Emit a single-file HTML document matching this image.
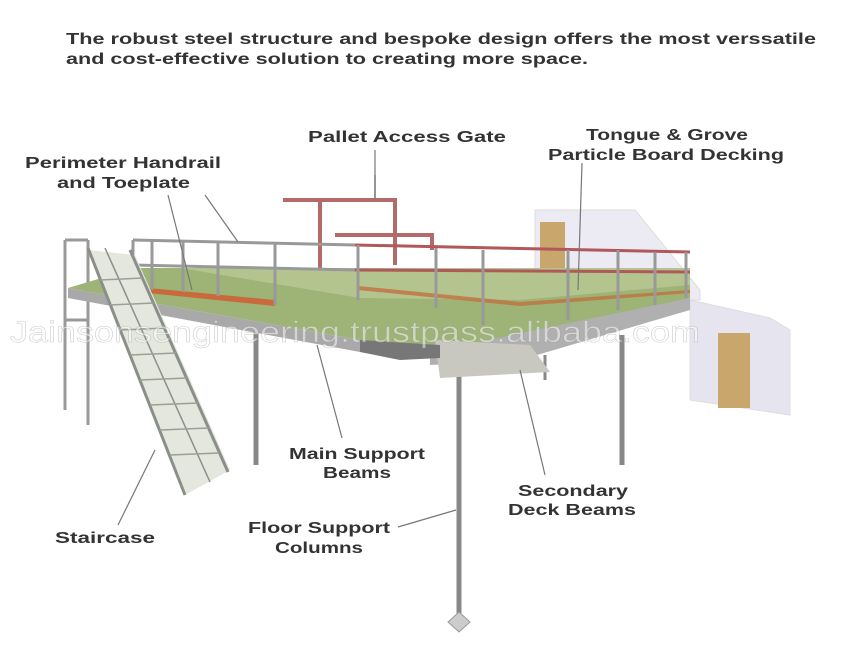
<!DOCTYPE html>
<html><head><meta charset="utf-8"><style>
html,body{margin:0;padding:0;background:#fff;}
svg{display:block}
text{font-family:"Liberation Sans",sans-serif;font-weight:bold;fill:#333;font-size:16px}
</style></head><body>
<svg width="848" height="667" viewBox="0 0 848 667" xmlns="http://www.w3.org/2000/svg">
<rect width="848" height="667" fill="#fff"/>
<text x="66" y="44" textLength="750" lengthAdjust="spacingAndGlyphs">The robust steel structure and bespoke design offers the most verssatile</text>
<text x="66" y="64" textLength="522" lengthAdjust="spacingAndGlyphs">and cost-effective solution to creating more space.</text>

<!-- right building -->
<polygon points="535,210 635,210 700,290 700,300 535,300" fill="#ecebf3" stroke="#ddd"/>
<rect x="540" y="222" width="25" height="55" fill="#c9a66b"/>
<polygon points="690,300 770,318 790,330 790,415 690,400" fill="#e6e5ef" stroke="#ddd"/>
<rect x="718" y="333" width="32" height="75" fill="#c9a66b"/>

<!-- left frame posts -->
<g stroke="#999" stroke-width="3">
<line x1="65" y1="240" x2="65" y2="410"/><line x1="88" y1="240" x2="88" y2="425"/>
<line x1="65" y1="240" x2="88" y2="240"/><line x1="65" y1="320" x2="88" y2="320"/>
</g>

<!-- columns -->
<g stroke="#888" stroke-width="5">
<line x1="256" y1="330" x2="256" y2="465"/>
<line x1="459" y1="365" x2="459" y2="622"/>
<line x1="622" y1="335" x2="622" y2="465"/>
<line x1="545" y1="355" x2="545" y2="380" stroke-width="3"/>
</g>
<polygon points="459,612 470,622 459,632 448,622" fill="#ccc" stroke="#999"/>

<!-- deck -->
<polygon points="68,288 135,268 690,268 690,298 530,345 440,352 360,340" fill="#9db476"/>
<polygon points="180,268 690,268 690,285 520,300 360,298" fill="#c2cfa0" opacity=".6"/>
<polygon points="68,288 360,340 360,352 68,298" fill="#a9a9a9"/>
<polygon points="430,352 690,298 690,310 520,360 430,365" fill="#b0b0b0"/>
<polygon points="435,340 530,345 550,372 440,378" fill="#c8c8c0"/>
<polygon points="360,340 440,345 440,358 400,360 360,352" fill="#777"/>
<!-- toeplates -->
<polygon points="128,286 275,300 275,306 128,291" fill="#c96a3c"/>
<polygon points="358,286 520,302 690,290 690,293 520,306 358,290" fill="#c0703f" opacity=".8"/>

<!-- gate -->
<g stroke="#b56a6a" stroke-width="4" fill="none">
<polyline points="283,200 395,200 395,265"/>
<polyline points="320,200 320,270"/>
<polyline points="335,235 432,235 432,250"/>
<line x1="375" y1="175" x2="375" y2="200" stroke="#888" stroke-width="1.5"/>
</g>

<!-- rails -->
<g stroke="#999" stroke-width="3">
<line x1="133" y1="240" x2="355" y2="245"/>
<line x1="133" y1="265" x2="355" y2="270"/>
<line x1="133" y1="240" x2="133" y2="288"/>
<line x1="152" y1="240" x2="152" y2="290"/>
<line x1="183" y1="240" x2="183" y2="292"/>
<line x1="218" y1="242" x2="218" y2="296"/>
<line x1="275" y1="243" x2="275" y2="305"/>
</g>
<g stroke="#b0585a" stroke-width="3">
<line x1="355" y1="245" x2="690" y2="252"/>
<line x1="355" y1="270" x2="690" y2="272"/>
</g>
<g stroke="#999" stroke-width="3">
<line x1="358" y1="245" x2="358" y2="300"/>
<line x1="436" y1="248" x2="436" y2="308"/>
<line x1="483" y1="250" x2="483" y2="325"/>
<line x1="568" y1="250" x2="568" y2="320"/>
<line x1="618" y1="250" x2="618" y2="310"/>
<line x1="655" y1="252" x2="655" y2="305"/>
<line x1="686" y1="252" x2="686" y2="298"/>
</g>

<!-- staircase -->
<polygon points="88,250 135,255 230,470 185,495" fill="#e3e7dd"/>
<g stroke="#8a8f88" stroke-width="3" fill="none">
<line x1="88" y1="248" x2="185" y2="495"/>
<line x1="130" y1="250" x2="228" y2="472"/>
<line x1="105" y1="248" x2="210" y2="482" stroke-width="1.5"/>
</g>
<g stroke="#9aa095" stroke-width="1.5">
<line x1="100" y1="280" x2="143" y2="278"/><line x1="110" y1="305" x2="154" y2="303"/>
<line x1="120" y1="330" x2="165" y2="328"/><line x1="130" y1="355" x2="176" y2="353"/>
<line x1="140" y1="380" x2="187" y2="378"/><line x1="150" y1="405" x2="198" y2="403"/>
<line x1="160" y1="430" x2="209" y2="428"/><line x1="170" y1="455" x2="219" y2="453"/>
</g>

<!-- watermark -->
<text x="10" y="342" textLength="690" lengthAdjust="spacingAndGlyphs" style="font-size:30px;font-weight:normal;fill:#fff;opacity:.5;stroke:#999;stroke-width:.5">Jainsonsengineering.trustpass.alibaba.com</text>

<!-- leader lines -->
<g stroke="#777" stroke-width="1.2">
<line x1="168" y1="195" x2="192" y2="290"/>
<line x1="205" y1="195" x2="238" y2="242"/>
<line x1="375" y1="150" x2="375" y2="200"/>
<line x1="582" y1="163" x2="578" y2="290"/>
<line x1="317" y1="345" x2="342" y2="438"/>
<line x1="520" y1="370" x2="545" y2="475"/>
<line x1="398" y1="527" x2="456" y2="510"/>
<line x1="118" y1="525" x2="155" y2="450"/>
</g>

<text x="308" y="142" textLength="198" lengthAdjust="spacingAndGlyphs">Pallet Access Gate</text>
<text x="586" y="140" textLength="162" lengthAdjust="spacingAndGlyphs">Tongue &amp; Grove</text>
<text x="548" y="160" textLength="236" lengthAdjust="spacingAndGlyphs">Particle Board Decking</text>
<text x="25" y="168" textLength="196" lengthAdjust="spacingAndGlyphs">Perimeter Handrail</text>
<text x="57" y="188" textLength="133" lengthAdjust="spacingAndGlyphs">and Toeplate</text>
<text x="289" y="459" textLength="136" lengthAdjust="spacingAndGlyphs">Main Support</text>
<text x="323" y="478" textLength="68" lengthAdjust="spacingAndGlyphs">Beams</text>
<text x="518" y="496" textLength="110" lengthAdjust="spacingAndGlyphs">Secondary</text>
<text x="508" y="515" textLength="128" lengthAdjust="spacingAndGlyphs">Deck Beams</text>
<text x="248" y="533" textLength="142" lengthAdjust="spacingAndGlyphs">Floor Support</text>
<text x="275" y="553" textLength="88" lengthAdjust="spacingAndGlyphs">Columns</text>
<text x="55" y="543" textLength="100" lengthAdjust="spacingAndGlyphs">Staircase</text>
</svg>
</body></html>
